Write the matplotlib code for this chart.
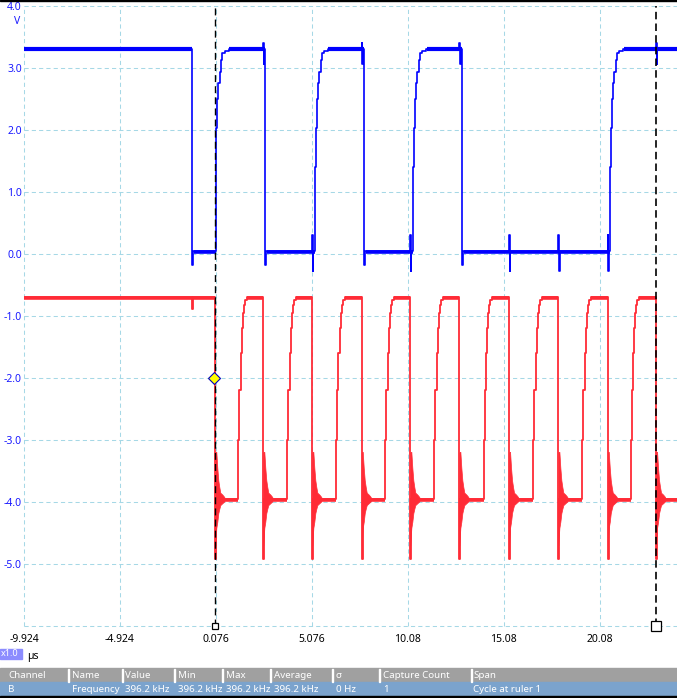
import numpy as np
import matplotlib
matplotlib.use("Agg")
import matplotlib.pyplot as plt
from matplotlib.patches import Rectangle

plt.rcParams['font.family'] = ['Noto Sans', 'DejaVu Sans']

W, H = 677, 698

# time axis (us) and voltage axis (V)
t_start, t_end = -9.924, 24.10
x_ticks = [-9.924, -4.924, 0.076, 5.076, 10.076, 15.076, 20.076]
x_labels = ['-9.924', '-4.924', '0.076', '5.076', '10.08', '15.08', '20.08']
y_ticks = [4.0, 3.0, 2.0, 1.0, 0.0, -1.0, -2.0, -3.0, -4.0, -5.0]
y_labels = ['4.0', '3.0', '2.0', '1.0', '0.0', '-1.0', '-2.0', '-3.0', '-4.0', '-5.0']

# channel A (blue)
blue_high, blue_low = 3.30, 0.05
blue_fall_t = [-1.154, 2.635, 7.809, 12.916]
blue_rise_t = [0.055, 5.240, 10.363, 20.613]
blue_rise_dt = [0.0, 0.05, 0.10, 0.15, 0.21, 0.29, 0.36, 0.47, 0.68]
blue_rise_v = [1.40, 2.03, 2.50, 2.76, 2.94, 3.13, 3.24, 3.28, 3.30]

# channel B (red)
red_high, red_low = -0.69, -3.95
red_fall_t = [0.045, 2.546, 5.100, 7.674, 10.206, 12.760, 15.350, 17.919, 20.493, 23.010]
red_rise_t = [1.243, 3.797, 6.335, 8.903, 11.457, 14.031, 16.616, 19.169, 21.691]
red_rise_dt = [0.0, 0.052, 0.12, 0.182, 0.234, 0.287, 0.339, 0.443]
red_rise_v = [-3.0, -2.2, -1.6, -1.2, -0.95, -0.82, -0.75, -0.69]
ring_dt = [0.0, 0.052, 0.104, 0.156, 0.208, 0.26, 0.365, 0.47]
ring_hi = [-3.20, -3.19, -3.45, -3.65, -3.76, -3.85, -3.88, -3.92]
ring_lo = [-4.70, -4.42, -4.32, -4.18, -4.11, -4.05, -4.02, -3.99]

ruler1_t, ruler2_t = 0.03, 22.98
trigger_t, trigger_v = 0.0, -2.0

table_cols = ['Channel', 'Name', 'Value', 'Min', 'Max', 'Average', '\u03c3', 'Capture Count', 'Span']
table_row = ['B', 'Frequency', '396.2 kHz', '396.2 kHz', '396.2 kHz', '396.2 kHz', '0 Hz', '1', 'Cycle at ruler 1']
col_x = [8, 72, 125, 178, 226, 274, 336, 383, 473]
sep_x = [67.5, 121.5, 173.5, 221.5, 269.5, 331.5, 378.5, 470.5]

BLUE = '#0000ff'
RED = '#ff2b36'


def build_blue():
    ev = [(t, 'fall') for t in blue_fall_t] + [(t, 'rise') for t in blue_rise_t]
    ev += [(t, 'glitch') for t in red_fall_t[1:]]
    ev.sort()
    pts = [(t_start, blue_high)]
    level = blue_high
    for t, kind in ev:
        if kind == 'fall':
            pts += [(t, -0.17), (t + 0.05, blue_low)]
            level = blue_low
        elif kind == 'rise':
            pts += [(t + d, v) for d, v in zip(blue_rise_dt, blue_rise_v)]
            level = blue_high
        else:
            if level == blue_low:
                pts += [(t, 0.30), (t + 0.03, -0.28), (t + 0.06, level)]
            else:
                pts += [(t, 3.40), (t + 0.03, 3.06), (t + 0.06, level)]
    pts.append((t_end, level))
    return np.array(pts)


def build_red():
    ev = [(t, 'fall') for t in red_fall_t] + [(t, 'rise') for t in red_rise_t]
    ev.sort()
    pts = [(t_start, red_high), (blue_fall_t[0], -0.89), (blue_fall_t[0] + 0.05, red_high)]
    level = red_high
    for t, kind in ev:
        if kind == 'fall':
            pts += [(t, -4.92), (t + 0.04, red_low)]
            level = red_low
        else:
            pts += [(t + d, v) for d, v in zip(red_rise_dt, red_rise_v)]
            level = red_high
    pts.append((t_end, level))
    return np.array(pts)


fig = plt.figure(figsize=(W / 100, H / 100), dpi=100)
ax = fig.add_axes([24 / W, 1 - 626 / H, 653 / W, 620 / H])
ax.set_xlim(t_start, t_end)
ax.set_ylim(-6.0, 4.0)
for s in ax.spines.values():
    s.set_visible(False)

ax.set_xticks(x_ticks)
ax.set_xticklabels(x_labels, fontsize=7.5, color='black')
ax.set_yticks(y_ticks + [-6.0])
ax.set_yticklabels(y_labels + [''], fontsize=7.5, color='#1a1aff')
ax.tick_params(axis='both', length=0)
ax.tick_params(axis='x', pad=6)
ax.tick_params(axis='y', pad=1.5)
ax.grid(True, color='#a6d8e6', linestyle=(0, (4, 3)), linewidth=0.75)
for gl in ax.get_xgridlines() + ax.get_ygridlines():
    gl.set_clip_on(False)
ax.set_axisbelow(True)

red = build_red()
blue = build_blue()

# fuzzy flat levels of red
for i, tf in enumerate(red_fall_t):
    prev = red_rise_t[i - 1] + 0.45 if i > 0 else t_start
    ax.hlines(red_high - 0.015, prev, tf, color=RED, lw=2.6, zorder=2)
    nxt = red_rise_t[i] if i < len(red_rise_t) else t_end
    ax.hlines(red_low - 0.01, tf + 0.45, nxt, color=RED, lw=2.6, zorder=2)
    ax.fill_between(tf + np.array(ring_dt), ring_lo, ring_hi, color=RED, lw=0.5, zorder=2)
ax.plot(red[:, 0], red[:, 1], drawstyle='steps-post', color=RED, lw=1.3, zorder=2)

# fuzzy flat levels of blue
hi_start = [t_start] + [t + 0.7 for t in blue_rise_t]
hi_end = blue_fall_t + [t_end]
for a, b in zip(hi_start, hi_end):
    ax.hlines(blue_high, a, b, color=BLUE, lw=3.0, zorder=3)
for a, b in zip(blue_fall_t, blue_rise_t):
    ax.hlines(blue_low - 0.01, a + 0.08, b, color=BLUE, lw=2.6, zorder=3)
ax.plot(blue[:, 0], blue[:, 1], drawstyle='steps-post', color=BLUE, lw=1.2, zorder=3)

# rulers
ax.axvline(ruler1_t, color='black', lw=1.0, linestyle=(0, (5, 3)), zorder=4)
ax.axvline(ruler2_t, color='black', lw=1.2, linestyle=(0, (4.5, 2.5)), zorder=4)
ax.plot([ruler1_t], [-6.0], marker='s', ms=4.5, mfc='white', mec='black', mew=0.9,
        clip_on=False, zorder=5)
ax.plot([ruler2_t], [-6.0], marker='s', ms=7, mfc='white', mec='black', mew=0.9,
        clip_on=False, zorder=5)
ax.plot([trigger_t], [trigger_v], marker='D', ms=6, mfc='#ffff00', mec='#0000c0', mew=0.8,
        zorder=6)


def fx(px):
    return px / W


def fy(py):
    return 1 - py / H


# top border
fig.patches.append(Rectangle((0, fy(1.2)), 1, 1.2 / H, transform=fig.transFigure,
                             color='black', zorder=10))
fig.text(fx(14), fy(22), 'V', color='#1a1aff', fontsize=7.5, ha='left', va='center')

# x1.0 zoom box and unit
fig.patches.append(Rectangle((0, fy(659)), fx(22), 10 / H, transform=fig.transFigure,
                             color='#8c8cff', zorder=10))
fig.text(fx(1), fy(654), 'x1.0', color='white', fontsize=6.5, ha='left', va='center', zorder=11)
fig.text(fx(27), fy(657), '\u00b5s', color='black', fontsize=7.5, ha='left', va='center')

# measurement table
fig.patches.append(Rectangle((0, fy(682)), 1, 14 / H, transform=fig.transFigure,
                             color='#a0a0a0', zorder=10))
fig.patches.append(Rectangle((0, fy(696)), 1, 14 / H, transform=fig.transFigure,
                             color='#7ba3cd', zorder=10))
fig.patches.append(Rectangle((0, 0), 1, 2 / H, transform=fig.transFigure,
                             color='black', zorder=10))
for sx in sep_x:
    fig.patches.append(Rectangle((fx(sx), fy(682)), 1 / W, 13 / H, transform=fig.transFigure,
                                 color='white', zorder=11))
for x, c, v in zip(col_x, table_cols, table_row):
    fig.text(fx(x), fy(675), c, color='white', fontsize=7, ha='left', va='center', zorder=12)
    fig.text(fx(x), fy(689.5), v, color='white', fontsize=7, ha='left', va='center', zorder=12)

fig.savefig('out.png', dpi=100)
